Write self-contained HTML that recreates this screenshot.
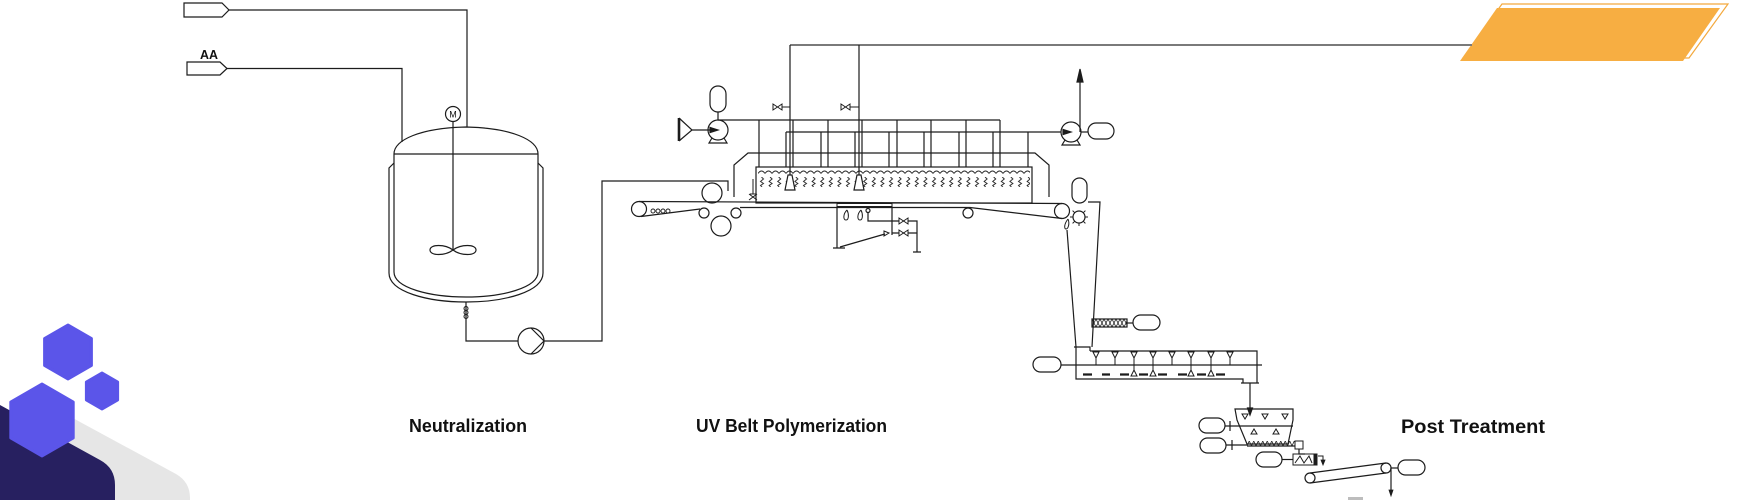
<!DOCTYPE html>
<html>
<head>
<meta charset="utf-8">
<style>
html,body{margin:0;padding:0;background:#fff;}
body{width:1751px;height:500px;overflow:hidden;}
svg{display:block;}
text{font-family:"Liberation Sans",sans-serif;font-weight:bold;fill:#111;}
</style>
</head>
<body>
<svg width="1751" height="500" viewBox="0 0 1751 500" xmlns="http://www.w3.org/2000/svg">
<defs>
  <pattern id="zig" x="758" y="177" width="8.6" height="10" patternUnits="userSpaceOnUse">
    <path d="M3.5,0 L5.5,2 L2.5,4.5 L5.5,6.5 L2.5,8.5 L4,10" fill="none" stroke="#222" stroke-width="0.9"/>
  </pattern>
  <pattern id="scal" x="758" y="169" width="7" height="5" patternUnits="userSpaceOnUse">
    <path d="M0,4.5 Q3.5,-0.5 7,4.5" fill="none" stroke="#222" stroke-width="0.9"/>
  </pattern>
  <pattern id="xh" x="1092" y="319" width="4" height="8" patternUnits="userSpaceOnUse">
    <path d="M0,0 L4,8 M4,0 L0,8" fill="none" stroke="#222" stroke-width="0.8"/>
  </pattern>
  <pattern id="saw" x="1247" y="441" width="4.5" height="5" patternUnits="userSpaceOnUse">
    <path d="M0,5 L2.25,0 L4.5,5" fill="none" stroke="#222" stroke-width="0.8"/>
  </pattern>
</defs>

<!-- background decorative shapes -->
<path d="M58,410 L176,474 Q190,482 190,498 L190,500 L58,500 Z" fill="#E6E6E6"/>
<path d="M0,405 L100,460 Q115,468 115,485 L115,500 L0,500 Z" fill="#272060"/>
<polygon points="68,325 91.4,338.5 91.4,365.5 68,379 44.6,365.5 44.6,338.5" fill="#5B55E9" stroke="#5B55E9" stroke-width="3" stroke-linejoin="round"/>
<polygon points="102,373 117.6,382 117.6,400 102,409 86.4,400 86.4,382" fill="#5B55E9" stroke="#5B55E9" stroke-width="3" stroke-linejoin="round"/>
<polygon points="42,384 73.2,402 73.2,438 42,456 10.8,438 10.8,402" fill="#5B55E9" stroke="#5B55E9" stroke-width="3" stroke-linejoin="round"/>

<!-- orange banner -->
<polygon points="1502,4 1728,4 1689,58 1463,58" fill="none" stroke="#F3A93E" stroke-width="1.2"/>
<polygon points="1497,8 1720,8 1683,61 1460,61" fill="#F7AE42"/>

<!-- top gray line -->
<path d="M790,45 L1472,45" stroke="#7a7a7a" stroke-width="2" fill="none"/>

<g fill="none" stroke="#1c1c1c" stroke-width="1.2">
  <!-- inlets -->
  <path d="M184,3 L222,3 L229,10 L222,17 L184,17 Z"/>
  <path d="M229,10 L467,10 L467,127"/>
  <path d="M187,62 L220,62 L227,68.5 L220,75 L187,75 Z"/>
  <path d="M227,68.5 L402,68.5 L402,142"/>

  <!-- vessel -->
  <path d="M394,154 C394,140 420,128 466,127 C512,128 538,140 538,154"/>
  <path d="M394,154 L538,154"/>
  <path d="M394,154 L394,272 C394,288 430,297 466,297 C502,297 538,288 538,272 L538,154"/>
  <path d="M394,163 L389,168 L389,273 C389,292 428,302 466,302 C504,302 543,292 543,273 L543,168 L538,163"/>
  <circle cx="453" cy="114" r="7.5"/>
  <path d="M453,121.5 L453,250"/>
  <path d="M453,250 C445,244 430,244 430,250 C430,256 445,256 453,250 Z"/>
  <path d="M453,250 C461,244 476,244 476,250 C476,256 461,256 453,250 Z"/>
  <!-- outlet -->
  <path d="M466,302 L466,341 L518,341"/>
  <circle cx="466" cy="308.5" r="2" stroke-width="1"/>
  <circle cx="466" cy="312.5" r="2" stroke-width="1"/>
  <circle cx="466" cy="316.5" r="2" stroke-width="1"/>
  <circle cx="531" cy="341" r="13"/>
  <path d="M531,328 L544,341 L531,354"/>
  <path d="M544,341 L602,341 L602,181 L728,181 L728,191"/>

  <!-- belt rollers -->
  <circle cx="639" cy="209" r="7.5"/>
  <circle cx="653" cy="211" r="2" stroke-width="0.9"/>
  <circle cx="658" cy="211" r="2" stroke-width="0.9"/>
  <circle cx="663" cy="211" r="2" stroke-width="0.9"/>
  <circle cx="668" cy="211" r="2" stroke-width="0.9"/>
  <circle cx="712" cy="193" r="10"/>
  <circle cx="704" cy="213" r="5"/>
  <circle cx="736" cy="213" r="5"/>
  <circle cx="721" cy="226" r="10"/>
  <path d="M639,201.5 L1062,203.5"/>
  <path d="M641,216.5 L700,209"/>
  <path d="M740,207.5 L970,207.5 L1062,218.5"/>
  <circle cx="968" cy="213" r="5"/>
  <circle cx="1062" cy="211" r="7.5"/>

  <!-- hood and box -->
  <path d="M734,197 L734,165 L748,153 L1035,153 L1049,165 L1049,197"/>
  <rect x="756" y="167" width="276" height="36"/>
  <rect x="758" y="169" width="272" height="5" fill="url(#scal)" stroke="none"/>
  <rect x="758" y="177" width="272" height="10" fill="url(#zig)" stroke="none"/>
  <!-- small device -->
  <path d="M753,179 L753,194 M749,194 L757,200 M757,194 L749,200 M748,202 L758,202 M750,194 L756,194" stroke-width="1"/>

  <!-- headers -->
  <path d="M718,120 L1000,120"/>
  <path d="M759,120 V167 M793,120 V167 M828,120 V167 M862,120 V167 M897,120 V167 M931,120 V167 M966,120 V167 M1000,120 V167"/>
  <path d="M786,132 L1061,132"/>
  <path d="M786,132 V167 M821,132 V167 M855,132 V167 M889,132 V167 M924,132 V167 M959,132 V167 M993,132 V167 M1028,132 V167"/>
  <!-- feed lines -->
  <path d="M790,45 L790,175 M859,45 L859,175"/>
  <path d="M788,175 L792,175 L795,190 L785,190 Z" fill="#fff"/>
  <path d="M857,175 L861,175 L864,190 L854,190 Z" fill="#fff"/>
  <path d="M773,104 L782,110 L782,104 L773,110 Z M782,107 L790,107" stroke-width="1"/>
  <path d="M841,104 L850,110 L850,104 L841,110 Z M850,107 L859,107" stroke-width="1"/>

  <!-- left pump -->
  <rect x="710" y="86" width="16" height="26" rx="8"/>
  <path d="M718,112 L718,120"/>
  <circle cx="718" cy="130" r="10"/>
  <path d="M712,138 L709,143 L727,143 L724,138"/>
  <path d="M679,118 L679,141" stroke-width="2.6"/>
  <path d="M679,118 L692,130 L679,141"/>
  <path d="M692,130 L712,130"/>
  <path d="M710,127.5 L718,130 L710,132.5 Z" fill="#1c1c1c"/>

  <!-- right pump -->
  <circle cx="1071" cy="132" r="10"/>
  <path d="M1065,140 L1062,145 L1080,145 L1077,140"/>
  <path d="M1063,129.5 L1071,132 L1063,134.5 Z" fill="#1c1c1c"/>
  <path d="M1081,132 L1088,132"/>
  <rect x="1088" y="123" width="26" height="16" rx="8"/>
  <path d="M1080,132 L1080,80"/>
  <path d="M1080,69 L1077,82 L1083,82 Z" fill="#1c1c1c"/>

  <!-- under-belt piping -->
  <rect x="837" y="203.5" width="55" height="3" stroke-width="1"/>
  <path d="M837,206.5 L837,248 M833,248 L845,248 M892,206.5 L892,235"/>
  <path d="M847,210 C843,214 843,220 846,220 C849,220 849,214 847,210" stroke-width="1"/>
  <path d="M861,210 C857,214 857,220 860,220 C863,220 863,214 861,210" stroke-width="1"/>
  <circle cx="868" cy="210.5" r="2"/>
  <path d="M868,212.5 L868,221 L917,221 L917,252 M913,252 L921,252"/>
  <path d="M892,233 L917,233"/>
  <path d="M899,218 L908,224 L908,218 L899,224 Z" fill="#fff" stroke-width="1"/>
  <path d="M899,230 L908,236 L908,230 L899,236 Z" fill="#fff" stroke-width="1"/>
  <path d="M840,247 L885,234"/>
  <path d="M884,231 L889,233 L884,236 Z" stroke-width="1"/>

  <!-- cutter area -->
  <rect x="1072" y="178" width="15" height="25" rx="7.5"/>
  <circle cx="1079" cy="217" r="6"/>
  <path d="M1085,217 L1088,217 M1083.2,221.2 L1085.4,223.4 M1079,223 L1079,226 M1074.8,221.2 L1072.6,223.4 M1073,217 L1070,217 M1074.8,212.8 L1072.6,210.6 M1083.2,212.8 L1085.4,210.6" stroke-width="1"/>
  <path d="M1068,219 C1064,224 1064,229 1066,229 C1068,229 1070,224 1068,219" stroke-width="1"/>

  <!-- chute -->
  <path d="M1088,202 L1100,202 L1092,347"/>
  <path d="M1067,230 L1076,347"/>
  <path d="M1074,347 L1090,347 L1090,351"/>
  <rect x="1092" y="319" width="35" height="8" fill="url(#xh)"/>
  <path d="M1127,323 L1133,323"/>
  <rect x="1133" y="315" width="27" height="15" rx="7.5"/>

  <!-- dryer -->
  <path d="M1090,351 L1257,351 L1257,383"/>
  <path d="M1076,347 L1076,379 L1243,379 L1243,383"/>
  <path d="M1241,383 L1259,383"/>
  <path d="M1061,365 L1262,365"/>
  <rect x="1033" y="357" width="28" height="15" rx="7.5"/>
  <path d="M1093,352 L1099,352 L1096,358 Z M1096,358 V365 M1112,352 L1118,352 L1115,358 Z M1115,358 V365 M1131,352 L1137,352 L1134,358 Z M1134,358 V365 M1150,352 L1156,352 L1153,358 Z M1153,358 V365 M1169,352 L1175,352 L1172,358 Z M1172,358 V365 M1188,352 L1194,352 L1191,358 Z M1191,358 V365 M1208,352 L1214,352 L1211,358 Z M1211,358 V365 M1227,352 L1233,352 L1230,358 Z M1230,358 V365" stroke-width="1"/>
  <path d="M1134,365 V370 M1131,376 L1137,376 L1134,370 Z M1153,365 V370 M1150,376 L1156,376 L1153,370 Z M1191,365 V370 M1188,376 L1194,376 L1191,370 Z M1211,365 V370 M1208,376 L1214,376 L1211,370 Z" stroke-width="1"/>
  <path d="M1083,374.5 H1092 M1102,374.5 H1110 M1120,374.5 H1129 M1139,374.5 H1148 M1158,374.5 H1167 M1178,374.5 H1187 M1197,374.5 H1206 M1216,374.5 H1225" stroke-width="2.2"/>
  <path d="M1250,383 L1250,410"/>
  <path d="M1250,415 L1247.5,408 L1252.5,408 Z" fill="#1c1c1c"/>

  <!-- hopper -->
  <path d="M1235,409 L1293,409 L1293,420 L1288,444 L1247,444 L1237,420 Z"/>
  <path d="M1230,426 L1293,426"/>
  <path d="M1242,414 L1248,414 L1245,419 Z M1262,414 L1268,414 L1265,419 Z M1282,414 L1288,414 L1285,419 Z M1251,434 L1257,434 L1254,429 Z M1273,434 L1279,434 L1276,429 Z" stroke-width="1"/>
  <rect x="1199" y="418" width="26" height="15" rx="7.5"/>
  <path d="M1225,426 L1230,426 M1230,421 L1230,431"/>
  <rect x="1200" y="438" width="26" height="15" rx="7.5"/>
  <path d="M1226,445 L1247,445 M1232,440 L1232,450"/>
  <rect x="1247" y="441" width="48" height="5" fill="url(#saw)" stroke="none"/>
  <path d="M1247,446 L1295,446"/>
  <rect x="1295" y="441" width="8" height="8" stroke-width="1"/>
  <path d="M1299,449 L1299,454 L1305,454"/>
  <rect x="1293" y="454" width="24" height="11" stroke-width="1"/>
  <path d="M1295,463 L1300,456 L1304,463 L1309,456 L1312,463" stroke-width="1"/>
  <path d="M1314,455 L1317,455 L1317,464 L1314,464 Z" fill="#1c1c1c" stroke-width="1"/>
  <rect x="1256" y="452" width="26" height="15" rx="7.5"/>
  <path d="M1282,459.5 L1293,459.5"/>
  <path d="M1318,456 L1323,456 L1323,462" stroke-width="1"/>
  <path d="M1323,465 L1321,460 L1325,460 Z" fill="#1c1c1c" stroke-width="0.8"/>

  <!-- final conveyor -->
  <circle cx="1310" cy="478" r="5"/>
  <circle cx="1386" cy="468" r="5"/>
  <path d="M1310,473 L1386,463 M1310,483 L1386,473"/>
  <path d="M1391,468 L1398,468"/>
  <rect x="1398" y="460" width="27" height="15" rx="7.5"/>
  <path d="M1391,468 L1391,491"/>
  <path d="M1391,496 L1389,490 L1393,490 Z" fill="#1c1c1c" stroke-width="0.8"/>
</g>
<rect x="1348" y="497" width="15" height="3" fill="#bdbdbd"/>

<!-- texts -->
<text x="453" y="117.5" font-size="9" text-anchor="middle" style="font-weight:normal">M</text>
<text x="200" y="59" font-size="12.5" textLength="18" lengthAdjust="spacingAndGlyphs">AA</text>
<text x="409" y="432" font-size="18" textLength="118" lengthAdjust="spacingAndGlyphs">Neutralization</text>
<text x="696" y="432" font-size="18" textLength="191" lengthAdjust="spacingAndGlyphs">UV Belt Polymerization</text>
<text x="1401" y="433" font-size="19" textLength="144" lengthAdjust="spacingAndGlyphs">Post Treatment</text>
</svg>
</body>
</html>
